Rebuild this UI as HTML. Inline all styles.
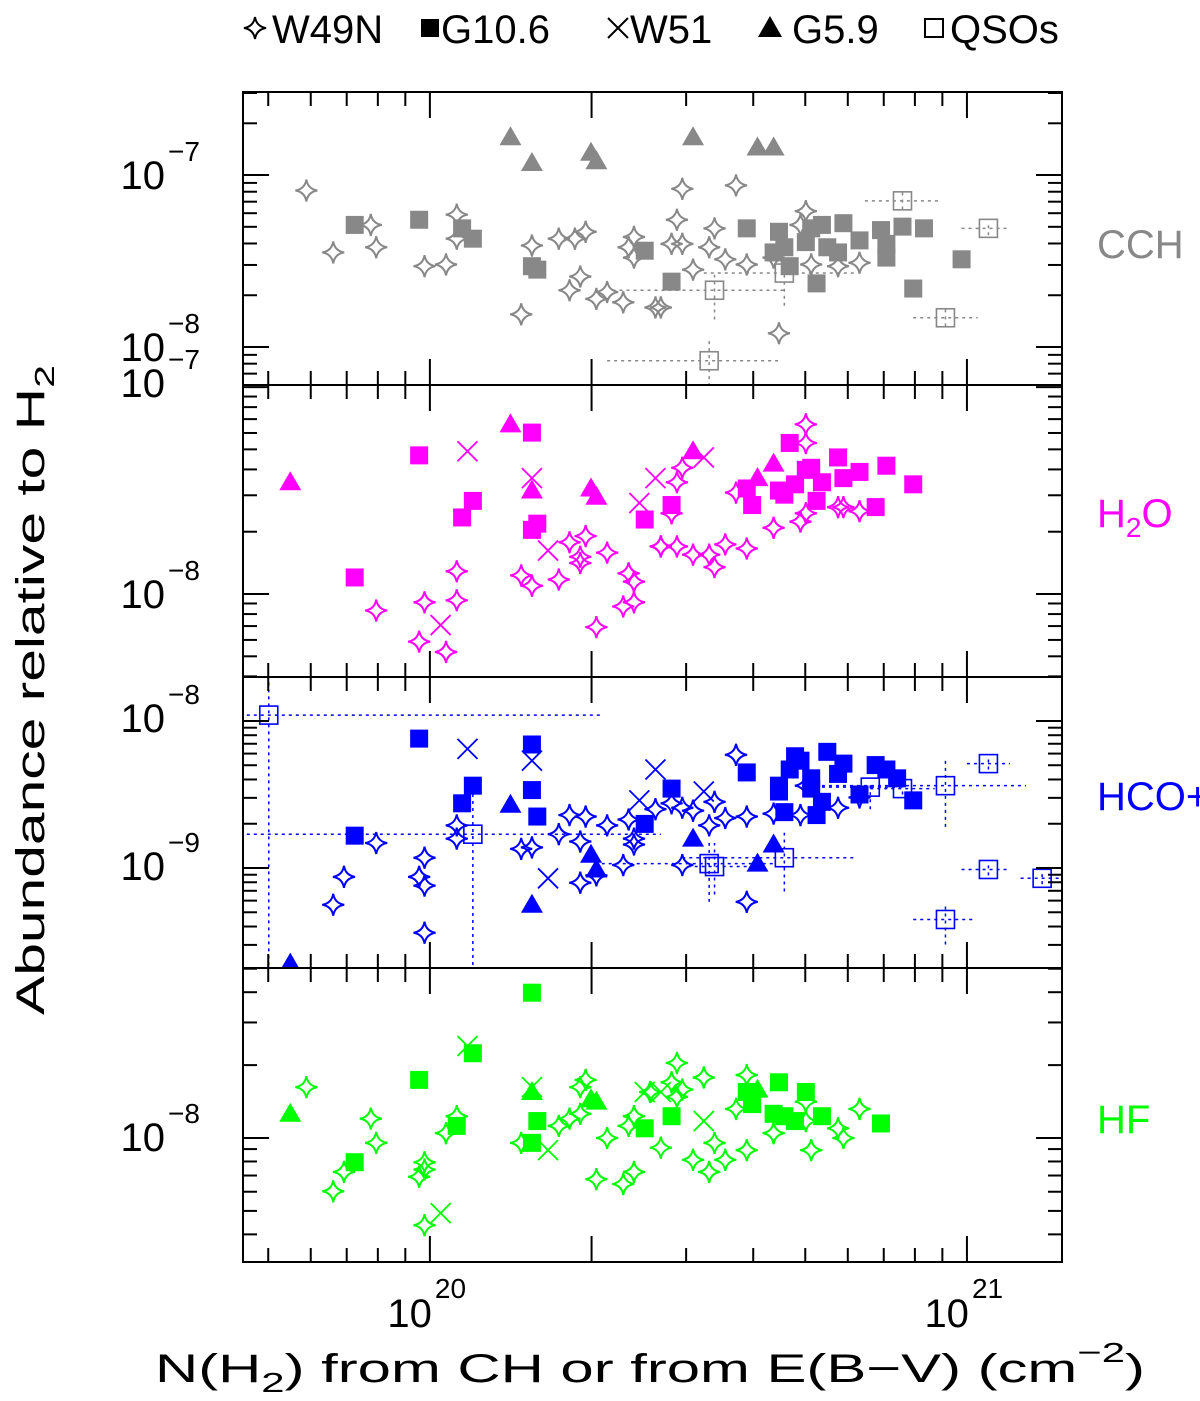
<!DOCTYPE html>
<html><head><meta charset="utf-8"><title>Abundance vs N(H2)</title>
<style>
html,body{margin:0;padding:0;background:#fff;}
svg{display:block;}
text{font-family:"Liberation Sans",sans-serif;}
</style></head>
<body>
<svg id="chart" width="1200" height="1401" viewBox="0 0 1200 1401" xmlns="http://www.w3.org/2000/svg">
<g id="legend"></g>
<g id="plots"></g>
<g id="labels"></g>
</svg>
<script>
// ---- data: log10 N(H2) [cm^-2] and log10 abundance ----
const cchStarX=[19.77,19.82,19.89,19.90,19.99,20.03,20.05,20.05,20.19,20.17,20.24,20.27,20.29,20.26,20.28,20.31,20.33,20.36,20.38,20.37,20.38,20.42,20.47,20.57,20.46,20.45,20.47,20.53,20.52,20.49,20.55,20.59,20.43,20.65,20.70,20.69,20.64,20.71,20.76,20.80];
const cchStarY=[-7.09,-7.45,-7.29,-7.42,-7.53,-7.52,-7.23,-7.37,-7.41,-7.81,-7.37,-7.37,-7.33,-7.67,-7.59,-7.72,-7.68,-7.74,-7.36,-7.42,-7.48,-7.77,-7.08,-7.06,-7.26,-7.40,-7.40,-7.31,-7.42,-7.55,-7.49,-7.52,-7.77,-7.92,-7.21,-7.29,-7.48,-7.52,-7.53,-7.51];
const cchSqX=[19.86,19.98,20.06,20.08,20.19,20.20,20.40,20.45,20.59,20.65,20.64,20.67,20.66,20.71,20.73,20.70,20.74,20.76,20.77,20.80,20.84,20.85,20.85,20.88,20.92,20.72,20.90,20.99];
const cchSqY=[-7.29,-7.26,-7.31,-7.37,-7.53,-7.55,-7.44,-7.62,-7.31,-7.33,-7.45,-7.53,-7.42,-7.31,-7.29,-7.39,-7.42,-7.45,-7.28,-7.38,-7.32,-7.48,-7.40,-7.30,-7.31,-7.63,-7.66,-7.49];
const cchTriX=[20.15,20.19,20.30,20.31,20.49,20.61,20.64];
const cchTriY=[-6.78,-6.93,-6.87,-6.92,-6.78,-6.84,-6.84];
const cchCrossX=[];
const cchCrossY=[];
const cchQsoX=[20.88,21.04,20.96,20.53,20.52,20.66];
const cchQsoY=[-7.15,-7.31,-7.83,-7.67,-8.08,-7.57];
const cchQsoXlo=[20.81,20.99,20.90,20.34,20.33,20.51];
const cchQsoXhi=[20.95,21.08,21.02,20.66,20.65,20.79];
const cchQsoYlo=[-7.20,-7.35,-7.88,-7.84,-8.35,-7.76];
const cchQsoYhi=[-7.10,-7.27,-7.78,-7.58,-7.95,-7.58];

const h2oStarX=[19.90,19.99,19.98,20.03,20.05,20.05,20.17,20.19,20.24,20.26,20.29,20.33,20.28,20.28,20.37,20.38,20.36,20.38,20.31,20.43,20.47,20.46,20.45,20.70,20.70,20.57,20.64,20.69,20.70,20.76,20.77,20.80,20.43,20.46,20.49,20.52,20.53,20.55,20.59];
const h2oStarY=[-8.08,-8.04,-8.23,-8.28,-7.89,-8.03,-7.91,-7.96,-7.93,-7.75,-7.72,-7.80,-7.82,-7.85,-7.90,-7.94,-8.06,-8.04,-8.16,-7.77,-7.39,-7.46,-7.61,-7.18,-7.27,-7.51,-7.68,-7.65,-7.61,-7.58,-7.58,-7.60,-7.77,-7.77,-7.81,-7.81,-7.87,-7.76,-7.78];
const h2oSqX=[19.98,19.86,20.08,20.06,20.19,20.20,20.19,20.40,20.45,20.59,20.60,20.67,20.65,20.66,20.68,20.70,20.71,20.73,20.72,20.76,20.77,20.80,20.85,20.90,20.83];
const h2oSqY=[-7.33,-7.92,-7.55,-7.63,-7.22,-7.66,-7.69,-7.64,-7.57,-7.49,-7.57,-7.27,-7.50,-7.52,-7.47,-7.40,-7.39,-7.46,-7.55,-7.34,-7.44,-7.41,-7.38,-7.47,-7.58];
const h2oTriX=[19.74,20.15,20.19,20.30,20.31,20.49,20.61,20.64];
const h2oTriY=[-7.46,-7.18,-7.50,-7.49,-7.53,-7.31,-7.44,-7.37];
const h2oCrossX=[20.07,20.19,20.22,20.02,20.39,20.42,20.51];
const h2oCrossY=[-7.31,-7.44,-7.79,-8.15,-7.56,-7.44,-7.34];

const hcoStarX=[19.90,19.84,19.82,19.99,19.98,19.99,19.99,20.05,20.05,20.17,20.19,20.24,20.26,20.29,20.33,20.28,20.28,20.31,20.36,20.37,20.38,20.38,20.42,20.57,20.45,20.47,20.49,20.53,20.52,20.55,20.59,20.64,20.69,20.70,20.76,20.80,20.47,20.59];
const hcoStarY=[-8.83,-9.06,-9.25,-8.93,-9.06,-9.12,-9.44,-8.71,-8.80,-8.87,-8.86,-8.77,-8.64,-8.65,-8.71,-8.82,-9.10,-9.05,-8.98,-8.67,-8.80,-8.84,-8.60,-8.23,-8.56,-8.59,-8.61,-8.55,-8.71,-8.66,-8.65,-8.63,-8.64,-8.44,-8.59,-8.52,-8.98,-9.23];
const hcoSqX=[19.98,19.86,20.08,20.06,20.19,20.19,20.20,20.40,20.45,20.59,20.65,20.65,20.66,20.68,20.69,20.67,20.71,20.71,20.73,20.72,20.74,20.77,20.76,20.80,20.83,20.85,20.87,20.90];
const hcoSqY=[-8.12,-8.78,-8.44,-8.56,-8.16,-8.47,-8.65,-8.70,-8.46,-8.35,-8.44,-8.48,-8.62,-8.24,-8.27,-8.33,-8.39,-8.46,-8.55,-8.64,-8.21,-8.29,-8.36,-8.50,-8.30,-8.33,-8.39,-8.54];
const hcoTriX=[19.74,20.15,20.19,20.30,20.31,20.49,20.61,20.64];
const hcoTriY=[-9.65,-8.57,-9.25,-8.91,-9.01,-8.80,-8.97,-8.84];
const hcoCrossX=[20.07,20.19,20.22,20.39,20.42,20.51];
const hcoCrossY=[-8.19,-8.27,-9.07,-8.54,-8.33,-8.48];
const hcoQsoX=[19.70,20.08,20.52,20.53,20.66,20.82,20.96,20.88,21.04,21.04,21.14,20.96];
const hcoQsoY=[-7.96,-8.77,-8.97,-8.99,-8.93,-8.45,-8.44,-8.46,-8.29,-9.01,-9.07,-9.35];
const hcoQsoXlo=[19.62,19.62,20.32,20.48,20.47,20.73,20.73,20.82,21.00,20.99,21.10,20.90];
const hcoQsoXhi=[20.32,20.43,20.64,20.59,20.79,20.88,21.11,20.94,21.08,21.08,21.25,21.01];
const hcoQsoYlo=[-9.9,-9.66,-9.23,-9.18,-9.16,-8.60,-8.72,-8.50,-8.33,-9.05,-9.11,-9.52];
const hcoQsoYhi=[-7.6,-8.50,-8.81,-8.83,-8.76,-8.41,-8.26,-8.42,-8.25,-8.97,-9.03,-9.25];

const hfStarX=[19.77,19.89,19.90,19.84,19.82,19.99,19.98,19.99,19.99,20.05,20.03,20.17,20.24,20.26,20.28,20.29,20.28,20.33,20.31,20.36,20.38,20.38,20.37,20.43,20.41,20.46,20.45,20.47,20.46,20.51,20.59,20.57,20.53,20.49,20.55,20.52,20.59,20.64,20.70,20.70,20.71,20.76,20.77,20.80];
const hfStarY=[-7.79,-7.92,-8.02,-8.14,-8.22,-8.10,-8.16,-8.13,-8.36,-7.91,-7.98,-8.02,-7.95,-7.92,-7.90,-7.76,-7.79,-8.00,-8.17,-8.19,-8.14,-7.91,-7.95,-8.04,-7.81,-7.69,-7.77,-7.80,-7.83,-7.75,-7.74,-7.88,-8.02,-8.09,-8.09,-8.14,-8.05,-7.98,-7.85,-7.93,-8.05,-7.96,-8.00,-7.88];
const hfSqX=[20.19,20.08,19.98,19.86,20.05,20.20,20.19,20.40,20.45,20.59,20.60,20.65,20.70,20.64,20.66,20.68,20.73,20.84];
const hfSqY=[-7.40,-7.65,-7.76,-8.10,-7.95,-7.93,-8.02,-7.96,-7.91,-7.81,-7.86,-7.77,-7.81,-7.90,-7.91,-7.93,-7.91,-7.94];
const hfTriX=[19.74,20.19,20.30,20.31,20.61];
const hfTriY=[-7.90,-7.81,-7.84,-7.85,-7.80];
const hfCrossX=[20.07,20.19,20.22,20.02,20.40,20.43,20.51];
const hfCrossY=[-7.62,-7.79,-8.05,-8.31,-7.81,-7.81,-7.93];

const xTickExps=[20,21];

// ---- drawing ----
const NS="http://www.w3.org/2000/svg";
const X0=243,X1=1062,XMIN=19.652,XMAX=21.177;
function xs(v){return X0+(v-XMIN)/(XMAX-XMIN)*(X1-X0);}
function mk(tag,attrs,parent){const e=document.createElementNS(NS,tag);for(const k in attrs)e.setAttribute(k,attrs[k]);parent.appendChild(e);return e;}
const plots=document.getElementById('plots');
const labels=document.getElementById('labels');

const panels=[
 {id:'cch',name:'CCH',top:92,bot:385,ymax:-6.517,ymin:-8.221,color:'#888888',label:'CCH',ly:258,
  star:[cchStarX,cchStarY],sq:[cchSqX,cchSqY],tri:[cchTriX,cchTriY],cross:[cchCrossX,cchCrossY],
  qso:[cchQsoX,cchQsoY,cchQsoXlo,cchQsoXhi,cchQsoYlo,cchQsoYhi],yl:[[-7,175],[-8,347]]},
 {id:'h2o',name:'H2O',top:385,bot:677,ymax:-6.990,ymin:-8.401,color:'#ff00ff',label:'H2O',ly:527,
  star:[h2oStarX,h2oStarY],sq:[h2oSqX,h2oSqY],tri:[h2oTriX,h2oTriY],cross:[h2oCrossX,h2oCrossY],
  qso:null,yl:[[-7,383],[-8,594]]},
 {id:'hco',name:'HCO+',top:677,bot:968,ymax:-7.701,ymin:-9.680,color:'#0000ff',label:'HCO+',ly:810,
  star:[hcoStarX,hcoStarY],sq:[hcoSqX,hcoSqY],tri:[hcoTriX,hcoTriY],cross:[hcoCrossX,hcoCrossY],
  qso:[hcoQsoX,hcoQsoY,hcoQsoXlo,hcoQsoXhi,hcoQsoYlo,hcoQsoYhi],yl:[[-8,718],[-9,866]]},
 {id:'hf',name:'HF',top:968,bot:1262,ymax:-7.298,ymin:-8.512,color:'#00ff00',label:'HF',ly:1133,
  star:[hfStarX,hfStarY],sq:[hfSqX,hfSqY],tri:[hfTriX,hfTriY],cross:[hfCrossX,hfCrossY],
  qso:null,yl:[[-8,1137]]}
];
const STAR="M0,-11 Q1.5,-1.5 11,0 Q1.5,1.5 0,11 Q-1.5,1.5 -11,0 Q-1.5,-1.5 0,-11Z";

panels.forEach(p=>{
  const ys=v=>p.top+(p.ymax-v)/(p.ymax-p.ymin)*(p.bot-p.top);
  const g=mk('g',{},plots);
  
  
  const cp=mk('clipPath',{id:'clip-'+p.id},g);
  mk('rect',{x:X0,y:p.top,width:X1-X0,height:p.bot-p.top},cp);
  const dg=mk('g',{'clip-path':'url(#clip-'+p.id+')'},g);
  if(p.qso){
    const [qx,qy,xlo,xhi,ylo,yhi]=p.qso;
    for(let i=0;i<qx.length;i++){
      const eb=mk('g',{stroke:p.color,'stroke-width':1.5,'stroke-dasharray':'3,4',fill:'none'},dg);
      
      
      mk('line',{x1:xs(xlo[i]),x2:xs(xhi[i]),y1:ys(qy[i]),y2:ys(qy[i])},eb);
      mk('line',{x1:xs(qx[i]),x2:xs(qx[i]),y1:ys(ylo[i]),y2:ys(yhi[i])},eb);
    }
  }
  for(let i=0;i<p.star[0].length;i++){
    const e=mk('path',{d:STAR,transform:`translate(${xs(p.star[0][i])},${ys(p.star[1][i])})`,fill:'none',stroke:p.color,'stroke-width':2,'stroke-linejoin':'miter'},dg);
    
    
  }
  for(let i=0;i<p.cross[0].length;i++){
    const cx=xs(p.cross[0][i]),cy=ys(p.cross[1][i]);
    const e=mk('path',{d:`M${cx-10},${cy-10}L${cx+10},${cy+10}M${cx-10},${cy+10}L${cx+10},${cy-10}`,stroke:p.color,'stroke-width':1.8,fill:'none'},dg);
    
    
  }
  for(let i=0;i<p.sq[0].length;i++){
    const e=mk('rect',{x:xs(p.sq[0][i])-9,y:ys(p.sq[1][i])-9,width:18,height:18,fill:p.color},dg);
    
    
  }
  for(let i=0;i<p.tri[0].length;i++){
    const cx=xs(p.tri[0][i]),cy=ys(p.tri[1][i]);
    const e=mk('path',{d:`M${cx},${cy-11}L${cx+11},${cy+8}L${cx-11},${cy+8}Z`,fill:p.color},dg);
    
    
  }
  if(p.qso){
    for(let i=0;i<p.qso[0].length;i++){
      const e=mk('rect',{x:xs(p.qso[0][i])-9,y:ys(p.qso[1][i])-9,width:18,height:18,fill:'none',stroke:p.color,'stroke-width':1.6},dg);
      
      
    }
  }
  const fr=mk('rect',{x:X0,y:p.top,width:X1-X0,height:p.bot-p.top,fill:'none',stroke:'#000','stroke-width':2},g);
  
  
  const tg=mk('g',{stroke:'#000','stroke-width':2},g);
  
  
  for(let n=19;n<=21;n++)for(let k=1;k<=9;k++){
    const v=n+Math.log10(k);if(v<XMIN||v>XMAX)continue;
    const x=xs(v),L=(k===1||(n===20&&k===2))?26:14;
    mk('line',{x1:x,x2:x,y1:p.bot,y2:p.bot-L},tg);
    mk('line',{x1:x,x2:x,y1:p.top,y2:p.top+L},tg);
  }
  for(let n=-10;n<=-6;n++)for(let k=1;k<=9;k++){
    const v=n+Math.log10(k);if(v<p.ymin||v>p.ymax)continue;
    const y=ys(v),L=k===1?26:14;
    mk('line',{x1:X0,x2:X0+L,y1:y,y2:y},tg);
    mk('line',{x1:X1,x2:X1-L,y1:y,y2:y},tg);
  }
  p.yl.forEach(([e,y])=>{
    const t=mk('text',{x:165,y:y+14,'font-size':40,'text-anchor':'end',fill:'#000'},labels);
    t.textContent='10';
    
    
    const s=mk('text',{x:168,y:y-14,'font-size':28,fill:'#000'},labels);
    s.textContent='\u2212'+(-e);
    
    
  });
  const lt=mk('text',{x:1097,y:p.ly,'font-size':40,fill:p.color},labels);
  
  
  if(p.id==='h2o'){lt.innerHTML='H<tspan font-size="28" dy="10">2</tspan><tspan dy="-10">O</tspan>';}
  else lt.textContent=p.label;
});

xTickExps.forEach(n=>{
  const x=xs(n);
  const t=mk('text',{x:x+2,y:1327,'font-size':40,'text-anchor':'end',fill:'#000'},labels);
  t.textContent='10';
  
  
  const s=mk('text',{x:x+5,y:1298,'font-size':28,fill:'#000'},labels);
  s.textContent=String(n);
  
  
});
</script>
<script>
(function(){
const NS="http://www.w3.org/2000/svg";
const labels=document.getElementById('labels');
const xt=document.createElementNS(NS,'text');
xt.setAttribute('x','155');xt.setAttribute('y','1382');xt.setAttribute('font-size','40');
xt.setAttribute('textLength','990');xt.setAttribute('lengthAdjust','spacingAndGlyphs');


xt.innerHTML='N(H<tspan font-size="28" dy="10">2</tspan><tspan dy="-10">) from CH or from E(B\u2212V) (cm</tspan><tspan font-size="28" dy="-20">\u22122</tspan><tspan dy="20">)</tspan>';
labels.appendChild(xt);
const yt=document.createElementNS(NS,'text');
yt.setAttribute('transform','translate(44,1015) rotate(-90)');yt.setAttribute('font-size','40');
yt.setAttribute('textLength','650');yt.setAttribute('lengthAdjust','spacingAndGlyphs');


yt.innerHTML='Abundance relative to H<tspan font-size="28" dy="10">2</tspan>';
labels.appendChild(yt);

const lg=document.getElementById('legend');
const items=[['star',255,'W49N',272],['sq',430,'G10.6',441],['x',618,'W51',630],['tri',770,'G5.9',792],['qso',934,'QSOs',950]];
items.forEach(([m,x,txt,tx])=>{
  const g=document.createElementNS(NS,'g');
  
  
  lg.appendChild(g);
  let s;
  const cy=28;
  if(m==='star'){s=document.createElementNS(NS,'path');s.setAttribute('d','M0,-11 Q1.5,-1.5 11,0 Q1.5,1.5 0,11 Q-1.5,1.5 -11,0 Q-1.5,-1.5 0,-11Z');s.setAttribute('transform',`translate(${x},${cy})`);s.setAttribute('fill','none');s.setAttribute('stroke','#000');s.setAttribute('stroke-width','2');}
  else if(m==='sq'){s=document.createElementNS(NS,'rect');s.setAttribute('x',x-9);s.setAttribute('y',cy-9);s.setAttribute('width',18);s.setAttribute('height',18);}
  else if(m==='x'){s=document.createElementNS(NS,'path');s.setAttribute('d',`M${x-10},${cy-10}L${x+10},${cy+10}M${x-10},${cy+10}L${x+10},${cy-10}`);s.setAttribute('stroke','#000');s.setAttribute('stroke-width','2');}
  else if(m==='tri'){s=document.createElementNS(NS,'path');s.setAttribute('d',`M${x},${cy-12}L${x+12},${cy+9}L${x-12},${cy+9}Z`);}
  else {s=document.createElementNS(NS,'rect');s.setAttribute('x',x-9);s.setAttribute('y',cy-9);s.setAttribute('width',18);s.setAttribute('height',18);s.setAttribute('fill','none');s.setAttribute('stroke','#000');s.setAttribute('stroke-width','2');}
  g.appendChild(s);
  const t=document.createElementNS(NS,'text');
  t.setAttribute('x',tx);t.setAttribute('y','43');t.setAttribute('font-size','40');
  t.textContent=txt;
  g.appendChild(t);
});
})();
</script>
</body></html>
